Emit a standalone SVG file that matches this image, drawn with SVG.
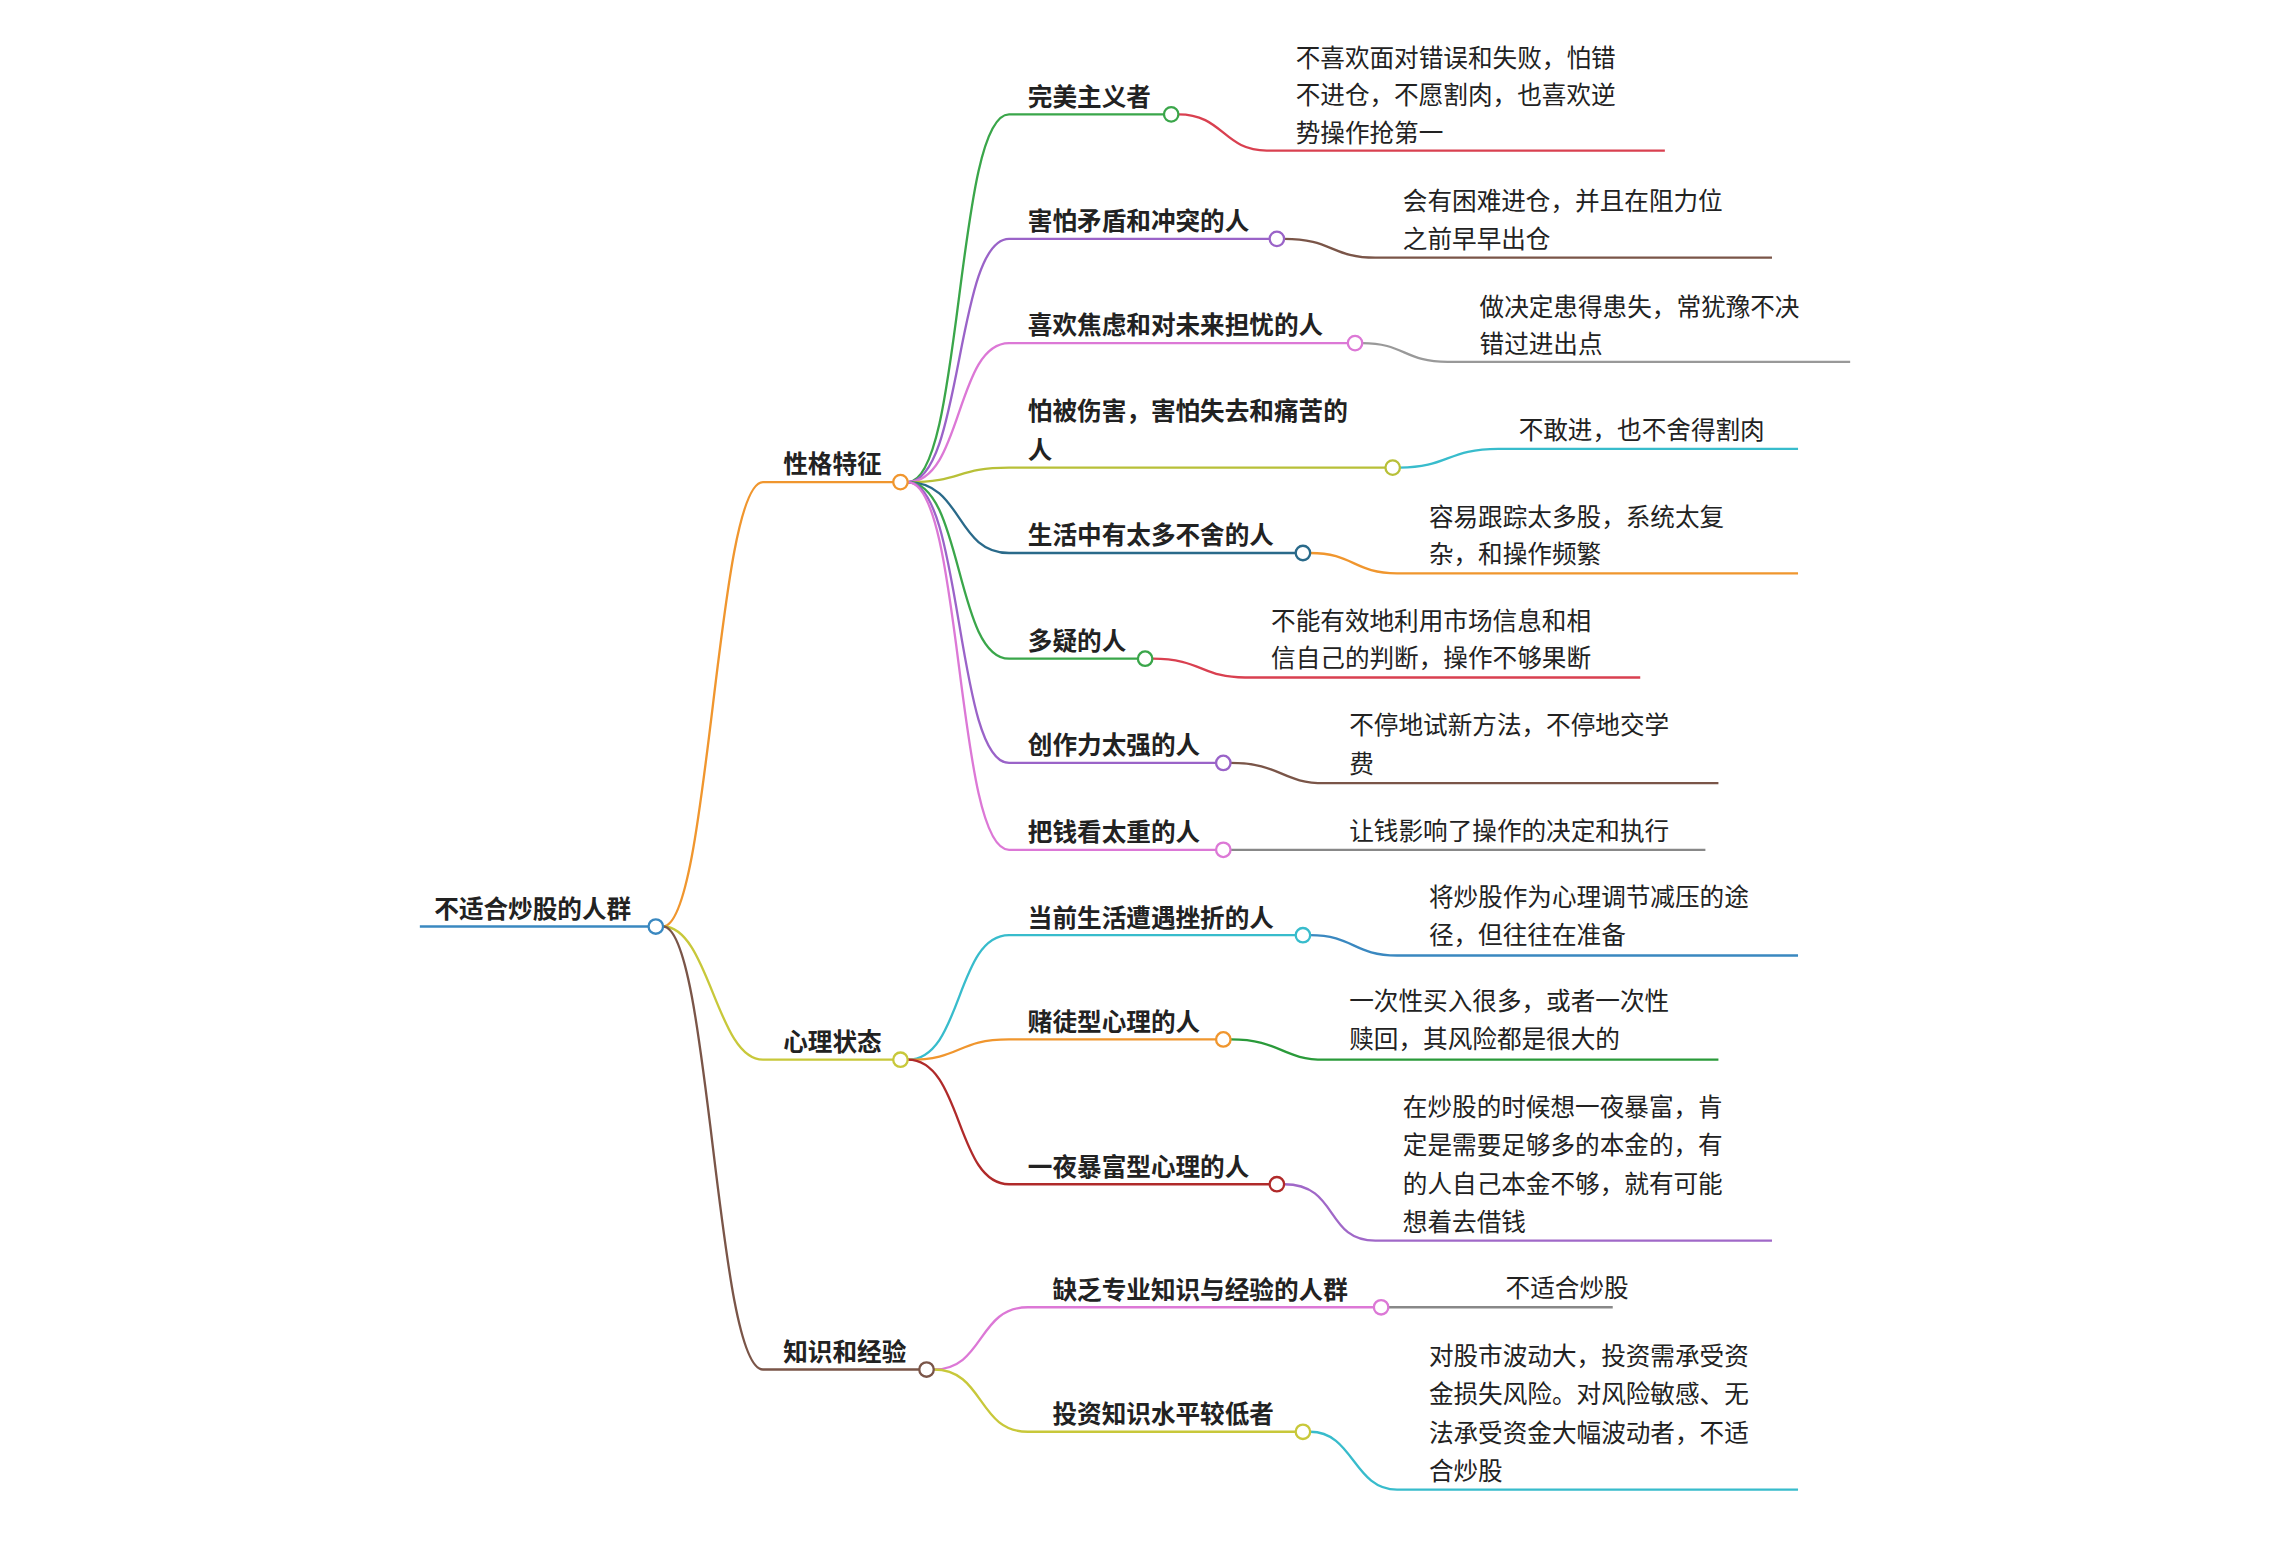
<svg xmlns="http://www.w3.org/2000/svg" width="2270" height="1544" viewBox="0 0 2270 1544">
<style>
text{font-family:"Noto Sans CJK SC","Liberation Sans",sans-serif;fill:#222}
.b{font-weight:bold;font-size:17px}
.l{font-size:17px}
path{fill:none;stroke-width:1.6}
circle{fill:#fff;stroke-width:1.6}
</style>
<rect width="2270" height="1544" fill="#fff"/>
<g transform="scale(1.4477)">
<g id="connectors">
<path d="M458,640 C490,640 495,333 527,333 H617" stroke="#f0962e"/>
<path d="M458,640 C490,640 495,732 527,732 H617" stroke="#c8c83a"/>
<path d="M458,640 C490,640 495,946 527,946 H635" stroke="#7a5548"/>
<path d="M627,333 C665,333 660,79 697,79 H804" stroke="#3aa64a"/>
<path d="M627,333 C665,333 660,165 697,165 H877" stroke="#9a63c8"/>
<path d="M627,333 C665,333 660,237 697,237 H931" stroke="#dc78d6"/>
<path d="M627,333 C665,333 660,323 697,323 H957" stroke="#b8c038"/>
<path d="M627,333 C665,333 660,382 697,382 H895" stroke="#2a6a8a"/>
<path d="M627,333 C665,333 660,455 697,455 H786" stroke="#3aa64a"/>
<path d="M627,333 C665,333 660,527 697,527 H840" stroke="#9a63c8"/>
<path d="M627,333 C665,333 660,587 697,587 H840" stroke="#dc78d6"/>
<path d="M627,732 C665,732 660,646 697,646 H895" stroke="#38bccc"/>
<path d="M627,732 C665,732 660,718 697,718 H840" stroke="#f0962e"/>
<path d="M627,732 C665,732 660,818 697,818 H877" stroke="#b02a2a"/>
<path d="M645,946 C680,946 675,903 710,903 H949" stroke="#dc78d6"/>
<path d="M645,946 C680,946 675,989 710,989 H895" stroke="#c8c83a"/>
<path d="M814,79 C845,79 845,104 875,104 H1150" stroke="#d94050"/>
<path d="M887,165 C920,165 920,178 950,178 H1224" stroke="#7a5548"/>
<path d="M941,237 C970,237 970,250 1000,250 H1278" stroke="#999"/>
<path d="M967,323 C1000,323 1000,310 1035,310 H1242" stroke="#38bccc"/>
<path d="M905,382 C935,382 935,396 965,396 H1242" stroke="#f0962e"/>
<path d="M796,455 C830,455 830,468 860,468 H1133" stroke="#d94050"/>
<path d="M850,527 C885,527 885,541 915,541 H1187" stroke="#7a5548"/>
<path d="M850,587 H1178" stroke="#888"/>
<path d="M905,646 C935,646 935,660 965,660 H1242" stroke="#3a88c0"/>
<path d="M850,718 C885,718 885,732 915,732 H1187" stroke="#2a9a3a"/>
<path d="M887,818 C925,818 915,857 950,857 H1224" stroke="#a068c8"/>
<path d="M959,903 H1114" stroke="#888"/>
<path d="M905,989 C935,989 935,1029 965,1029 H1242" stroke="#38bccc"/>
</g>
<g id="root"><text class="b" x="300" y="634">不适合炒股的人群</text><path d="M290,640 H448" stroke="#3a88c0"/><circle cx="453" cy="640" r="5" stroke="#3a88c0"/></g>
<g id="n-xg"><text class="b" x="541" y="327">性格特征</text><circle cx="622" cy="333" r="5" stroke="#f0962e"/></g>
<g id="n-xl"><text class="b" x="541" y="726">心理状态</text><circle cx="622" cy="732" r="5" stroke="#c8c83a"/></g>
<g id="n-zs"><text class="b" x="541" y="940">知识和经验</text><circle cx="640" cy="946" r="5" stroke="#7a5548"/></g>
<g id="n1"><text class="b" x="710" y="73">完美主义者</text><circle cx="809" cy="79" r="5" stroke="#3aa64a"/></g>
<g id="n2"><text class="b" x="710" y="159">害怕矛盾和冲突的人</text><circle cx="882" cy="165" r="5" stroke="#9a63c8"/></g>
<g id="n3"><text class="b" x="710" y="231">喜欢焦虑和对未来担忧的人</text><circle cx="936" cy="237" r="5" stroke="#dc78d6"/></g>
<g id="n4"><text class="b" x="710" y="290">怕被伤害，害怕失去和痛苦的</text><text class="b" x="710" y="317">人</text><circle cx="962" cy="323" r="5" stroke="#b8c038"/></g>
<g id="n5"><text class="b" x="710" y="376">生活中有太多不舍的人</text><circle cx="900" cy="382" r="5" stroke="#2a6a8a"/></g>
<g id="n6"><text class="b" x="710" y="449">多疑的人</text><circle cx="791" cy="455" r="5" stroke="#3aa64a"/></g>
<g id="n7"><text class="b" x="710" y="521">创作力太强的人</text><circle cx="845" cy="527" r="5" stroke="#9a63c8"/></g>
<g id="n8"><text class="b" x="710" y="581">把钱看太重的人</text><circle cx="845" cy="587" r="5" stroke="#dc78d6"/></g>
<g id="n9"><text class="b" x="710" y="640">当前生活遭遇挫折的人</text><circle cx="900" cy="646" r="5" stroke="#38bccc"/></g>
<g id="n10"><text class="b" x="710" y="712">赌徒型心理的人</text><circle cx="845" cy="718" r="5" stroke="#f0962e"/></g>
<g id="n11"><text class="b" x="710" y="812">一夜暴富型心理的人</text><circle cx="882" cy="818" r="5" stroke="#b02a2a"/></g>
<g id="n12"><text class="b" x="727" y="897">缺乏专业知识与经验的人群</text><circle cx="954" cy="903" r="5" stroke="#dc78d6"/></g>
<g id="n13"><text class="b" x="727" y="983">投资知识水平较低者</text><circle cx="900" cy="989" r="5" stroke="#c8c83a"/></g>
<g id="l1"><text class="l" x="895" y="46">不喜欢面对错误和失败，怕错</text><text class="l" x="895" y="72">不进仓，不愿割肉，也喜欢逆</text><text class="l" x="895" y="98">势操作抢第一</text></g>
<g id="l2"><text class="l" x="969" y="145">会有困难进仓，并且在阻力位</text><text class="l" x="969" y="171">之前早早出仓</text></g>
<g id="l3"><text class="l" x="1022" y="218">做决定患得患失，常犹豫不决</text><text class="l" x="1022" y="244">错过进出点</text></g>
<g id="l4"><text class="l" x="1049" y="303">不敢进，也不舍得割肉</text></g>
<g id="l5"><text class="l" x="987" y="363">容易跟踪太多股，系统太复</text><text class="l" x="987" y="389">杂，和操作频繁</text></g>
<g id="l6"><text class="l" x="878" y="435">不能有效地利用市场信息和相</text><text class="l" x="878" y="461">信自己的判断，操作不够果断</text></g>
<g id="l7"><text class="l" x="932" y="507">不停地试新方法，不停地交学</text><text class="l" x="932" y="534">费</text></g>
<g id="l8"><text class="l" x="932" y="580">让钱影响了操作的决定和执行</text></g>
<g id="l9"><text class="l" x="987" y="626">将炒股作为心理调节减压的途</text><text class="l" x="987" y="652">径，但往往在准备</text></g>
<g id="l10"><text class="l" x="932" y="698">一次性买入很多，或者一次性</text><text class="l" x="932" y="724">赎回，其风险都是很大的</text></g>
<g id="l11"><text class="l" x="969" y="771">在炒股的时候想一夜暴富，肯</text><text class="l" x="969" y="797">定是需要足够多的本金的，有</text><text class="l" x="969" y="824">的人自己本金不够，就有可能</text><text class="l" x="969" y="850">想着去借钱</text></g>
<g id="l12"><text class="l" x="1040" y="896">不适合炒股</text></g>
<g id="l13"><text class="l" x="987" y="943">对股市波动大，投资需承受资</text><text class="l" x="987" y="969">金损失风险。对风险敏感、无</text><text class="l" x="987" y="996">法承受资金大幅波动者，不适</text><text class="l" x="987" y="1022">合炒股</text></g>
</g>
</svg>
